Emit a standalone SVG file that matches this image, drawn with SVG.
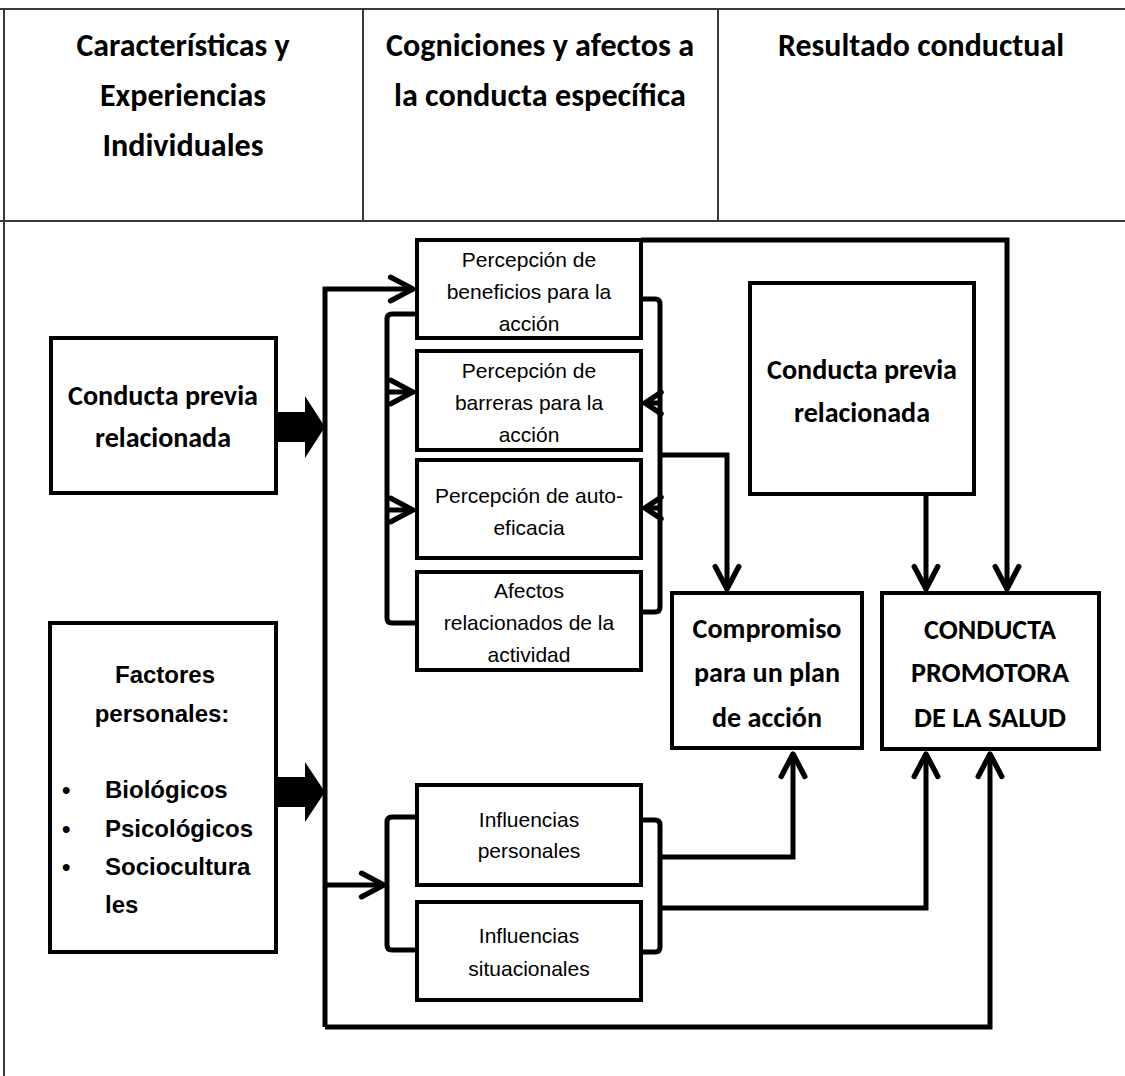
<svg xmlns="http://www.w3.org/2000/svg" width="1125" height="1076" viewBox="0 0 1125 1076">
<defs>
<style>
.grid{stroke:#3a3a3a;stroke-width:2;fill:none}
.hd{font-family:Carlito,Lato,"Open Sans",sans-serif;font-weight:bold;font-size:32px;fill:#000;text-anchor:middle}
.cb{font-family:Carlito,Lato,"Open Sans",sans-serif;font-weight:bold;font-size:28px;fill:#000;text-anchor:middle}
.ar{font-family:"Liberation Sans",Arial,sans-serif;font-size:21px;fill:#000;text-anchor:middle}
.ab{font-family:"Liberation Sans",Arial,sans-serif;font-weight:bold;font-size:24px;fill:#000}
.box{fill:#fff;stroke:#000;stroke-width:4}
.ln{fill:none;stroke:#000;stroke-width:5;stroke-linejoin:miter}
.br{fill:none;stroke:#000;stroke-width:5;stroke-linejoin:round}
</style>
<marker id="ah" markerUnits="userSpaceOnUse" markerWidth="30" markerHeight="30" viewBox="-24 -14 28 28" refX="0" refY="0" orient="auto">
<path d="M-21,-11 L0,0 L-21,11" fill="none" stroke="#000" stroke-width="5" stroke-linecap="round" stroke-linejoin="round"/>
</marker>
<marker id="ahs" markerUnits="userSpaceOnUse" markerWidth="30" markerHeight="30" viewBox="-20 -14 24 28" refX="0" refY="0" orient="auto">
<path d="M-15,-10 L0,0 L-15,10" fill="none" stroke="#000" stroke-width="5" stroke-linecap="round" stroke-linejoin="round"/>
</marker>
</defs>
<rect width="1125" height="1076" fill="#fff"/>

<g id="table">
<path class="grid" d="M0,9 H1125 M0,221 H1125 M4,9 V1076 M363,9 V221 M718,9 V221"/>
<text class="hd" x="183" y="56" textLength="213" lengthAdjust="spacingAndGlyphs">Características y</text>
<text class="hd" x="183" y="106" textLength="166" lengthAdjust="spacingAndGlyphs">Experiencias</text>
<text class="hd" x="183" y="156" textLength="161" lengthAdjust="spacingAndGlyphs">Individuales</text>
<text class="hd" x="540" y="56" textLength="308" lengthAdjust="spacingAndGlyphs">Cogniciones y afectos a</text>
<text class="hd" x="540" y="106" textLength="292" lengthAdjust="spacingAndGlyphs">la conducta específica</text>
<text class="hd" x="921" y="56" textLength="286" lengthAdjust="spacingAndGlyphs">Resultado conductual</text>
</g>

<g id="connectors">
<path class="ln" d="M325,1027 V289 H413" marker-end="url(#ah)"/>
<path class="ln" d="M325,1027 H990 V754" marker-end="url(#ah)"/>
<path class="ln" d="M325,885 H384" marker-end="url(#ah)"/>
<path class="br" d="M417,314 H392 Q387,314 387,319 V618 Q387,623 392,623 H417"/>
<path class="br" d="M641,299 H655 Q660,299 660,304 V607 Q660,612 655,612 H641"/>
<path class="ln" d="M387,392 H413" marker-end="url(#ah)"/>
<path class="ln" d="M387,510 H413" marker-end="url(#ah)"/>
<path class="ln" d="M660,403 H645" marker-end="url(#ahs)"/>
<path class="ln" d="M660,508 H645" marker-end="url(#ahs)"/>
<path class="br" d="M417,817 H392 Q387,817 387,822 V945 Q387,950 392,950 H417"/>
<path class="br" d="M641,820 H655 Q660,820 660,825 V947 Q660,952 655,952 H641"/>
<path class="ln" d="M641,240 H1007 V589" marker-end="url(#ah)"/>
<path class="ln" d="M660,455 H727 V589" marker-end="url(#ah)"/>
<path class="ln" d="M926,494 V589" marker-end="url(#ah)"/>
<path class="ln" d="M660,857 H793 V754" marker-end="url(#ah)"/>
<path class="ln" d="M660,908 H926 V754" marker-end="url(#ah)"/>
<polygon points="276,412 305,412 305,396 325,427 305,458 305,442 276,442" fill="#000"/>
<polygon points="276,777 305,777 305,762 325,792 305,822 305,807 276,807" fill="#000"/>
</g>

<g id="n-conducta-previa-izq">
<rect class="box" x="51" y="338" width="225" height="155"/>
<text class="cb" x="163" y="405" textLength="190" lengthAdjust="spacingAndGlyphs">Conducta previa</text>
<text class="cb" x="163" y="447" textLength="136" lengthAdjust="spacingAndGlyphs">relacionada</text>
</g>

<g id="n-factores">
<rect class="box" x="50" y="623" width="226" height="329"/>
<text class="ab" x="165" y="683" text-anchor="middle">Factores</text>
<text class="ab" x="162" y="722" text-anchor="middle">personales:</text>
<text class="ab" x="62" y="798">•</text>
<text class="ab" x="105" y="798">Biológicos</text>
<text class="ab" x="62" y="837">•</text>
<text class="ab" x="105" y="837">Psicológicos</text>
<text class="ab" x="62" y="875">•</text>
<text class="ab" x="105" y="875">Sociocultura</text>
<text class="ab" x="105" y="913">les</text>
</g>

<g id="n-beneficios">
<rect class="box" x="417" y="240" width="224" height="98"/>
<text class="ar" x="529" y="267">Percepción de</text>
<text class="ar" x="529" y="299">beneficios para la</text>
<text class="ar" x="529" y="331">acción</text>
</g>

<g id="n-barreras">
<rect class="box" x="417" y="351" width="224" height="99"/>
<text class="ar" x="529" y="378">Percepción de</text>
<text class="ar" x="529" y="410">barreras para la</text>
<text class="ar" x="529" y="442">acción</text>
</g>

<g id="n-autoeficacia">
<rect class="box" x="417" y="460" width="224" height="98"/>
<text class="ar" x="529" y="503">Percepción de auto-</text>
<text class="ar" x="529" y="535">eficacia</text>
</g>

<g id="n-afectos">
<rect class="box" x="417" y="572" width="224" height="98"/>
<text class="ar" x="529" y="598">Afectos</text>
<text class="ar" x="529" y="630">relacionados de la</text>
<text class="ar" x="529" y="662">actividad</text>
</g>

<g id="n-personales">
<rect class="box" x="417" y="785" width="224" height="100"/>
<text class="ar" x="529" y="827">Influencias</text>
<text class="ar" x="529" y="858">personales</text>
</g>

<g id="n-situacionales">
<rect class="box" x="417" y="902" width="224" height="98"/>
<text class="ar" x="529" y="943">Influencias</text>
<text class="ar" x="529" y="976">situacionales</text>
</g>

<g id="n-conducta-previa-der">
<rect class="box" x="750" y="283" width="224" height="211"/>
<text class="cb" x="862" y="379" textLength="190" lengthAdjust="spacingAndGlyphs">Conducta previa</text>
<text class="cb" x="862" y="422" textLength="136" lengthAdjust="spacingAndGlyphs">relacionada</text>
</g>

<g id="n-compromiso">
<rect class="box" x="672" y="593" width="190" height="155"/>
<text class="cb" x="767" y="638" textLength="149" lengthAdjust="spacingAndGlyphs">Compromiso</text>
<text class="cb" x="767" y="682" textLength="146" lengthAdjust="spacingAndGlyphs">para un plan</text>
<text class="cb" x="767" y="727" textLength="110" lengthAdjust="spacingAndGlyphs">de acción</text>
</g>

<g id="n-promotora">
<rect class="box" x="882" y="593" width="217" height="156"/>
<text class="cb" x="990" y="639" textLength="132" lengthAdjust="spacingAndGlyphs">CONDUCTA</text>
<text class="cb" x="990" y="682" textLength="158" lengthAdjust="spacingAndGlyphs">PROMOTORA</text>
<text class="cb" x="990" y="727" textLength="152" lengthAdjust="spacingAndGlyphs">DE LA SALUD</text>
</g>
</svg>
